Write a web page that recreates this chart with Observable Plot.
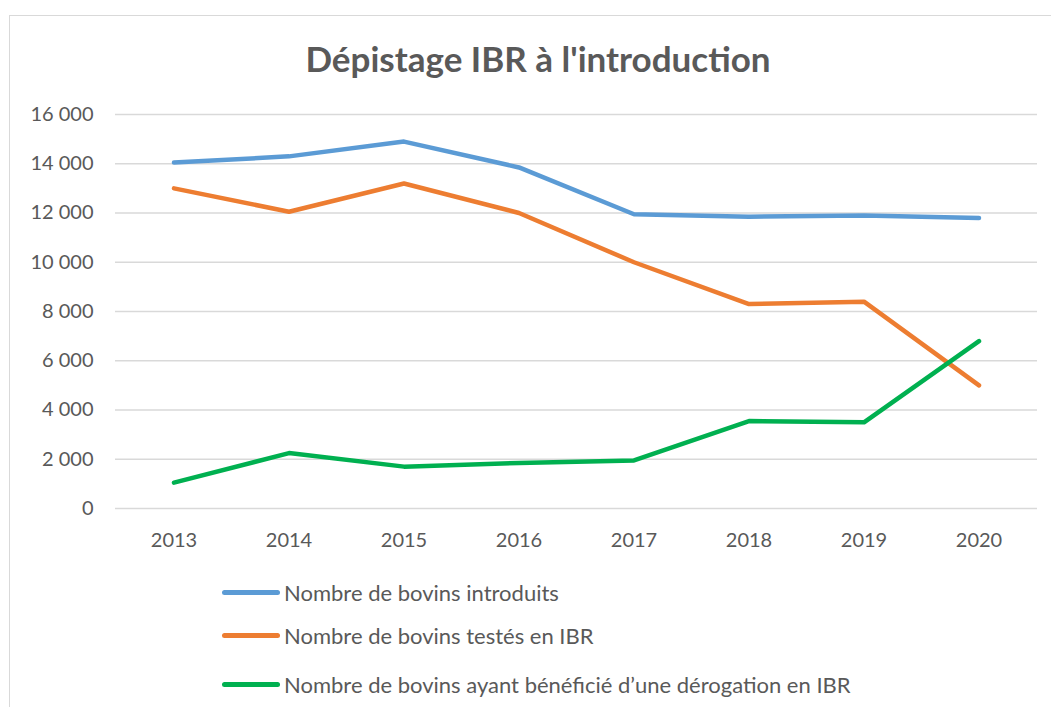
<!DOCTYPE html>
<html>
<head>
<meta charset="utf-8">
<script src="https://cdn.jsdelivr.net/npm/d3@7"></script>
<script src="https://cdn.jsdelivr.net/npm/@observablehq/plot@0.6"></script>
<style>
  html, body { margin: 0; padding: 0; background: #fff; }
  #wrap { position: relative; width: 1051px; height: 707px; overflow: hidden; font-family: Lato, "Open Sans", sans-serif; color: #595959; }
  #frame { position: absolute; left: 9px; top: 15px; width: 1060px; height: 760px; border: 1.5px solid #d9d9d9; box-sizing: border-box; }
  #title { position: absolute; left: 0; width: 1076px; top: 37px; text-align: center; font-weight: bold; font-size: 35px; color: #595959; }
  #chart { position: absolute; left: 0; top: 0; }
  .leg { position: absolute; left: 222px; height: 26px; display: flex; align-items: center; font-size: 22px; color: #595959; }
  .sw { width: 58px; height: 5px; border-radius: 3px; margin-right: 4px; }
</style>
</head>
<body>
<div id="wrap">
  <div id="frame"></div>
  <div id="title">Dépistage IBR à l'introduction</div>
  <div id="chart"></div>
  <div id="legend"></div>
</div>
<script>
const years = ["2013","2014","2015","2016","2017","2018","2019","2020"];
const introduits = [14050, 14300, 14900, 13850, 11950, 11850, 11900, 11800];
const testes = [13000, 12050, 13200, 12000, 10000, 8300, 8400, 5000];
const derogation = [1050, 2250, 1700, 1850, 1950, 3550, 3500, 6800];
const seriesNames = ["Nombre de bovins introduits", "Nombre de bovins testés en IBR", "Nombre de bovins ayant bénéficié d’une dérogation en IBR"];
const seriesColors = ["#5B9BD5", "#ED7D31", "#00B050"];
const yTicks = [0, 2000, 4000, 6000, 8000, 10000, 12000, 14000, 16000];

const allSeries = [introduits, testes, derogation];
const rows = [];
allSeries.forEach((vals, s) => vals.forEach((v, i) => rows.push({year: years[i], value: v, series: seriesNames[s]})));

const fmt = d => d3.format(",")(d).replace(/,/g, " ");

const plot = Plot.plot({
  width: 1051,
  height: 560,
  marginTop: 114,
  marginBottom: 52,
  marginLeft: 115,
  marginRight: 14,
  style: {fontFamily: "Lato, 'Open Sans', sans-serif", color: "#595959", background: "transparent"},
  x: {type: "band", domain: years, padding: 0, label: null},
  y: {domain: [0, 16000], label: null},
  color: {domain: seriesNames, range: seriesColors},
  marks: [
    Plot.ruleY(yTicks, {stroke: "#d9d9d9", strokeWidth: 1.5, strokeOpacity: 1}),
    Plot.axisY({ticks: yTicks, tickSize: 0, tickPadding: 22, tickFormat: fmt, fontSize: 20, label: null, fill: "#595959"}),
    Plot.axisX({tickSize: 0, tickPadding: 24, fontSize: 20, label: null, fill: "#595959"}),
    Plot.line(rows, {x: "year", y: "value", z: "series", stroke: "series", strokeWidth: 4.5, strokeLinejoin: "round", strokeLinecap: "round"})
  ]
});
document.getElementById("chart").appendChild(plot);

const legend = document.getElementById("legend");
const legTops = [579, 622, 671];
seriesNames.forEach((n, i) => {
  const d = document.createElement("div");
  d.className = "leg";
  d.style.top = legTops[i] + "px";
  const sw = document.createElement("span");
  sw.className = "sw";
  sw.style.background = seriesColors[i];
  d.appendChild(sw);
  const t = document.createElement("span");
  t.textContent = n;
  d.appendChild(t);
  legend.appendChild(d);
});
</script>
</body>
</html>
